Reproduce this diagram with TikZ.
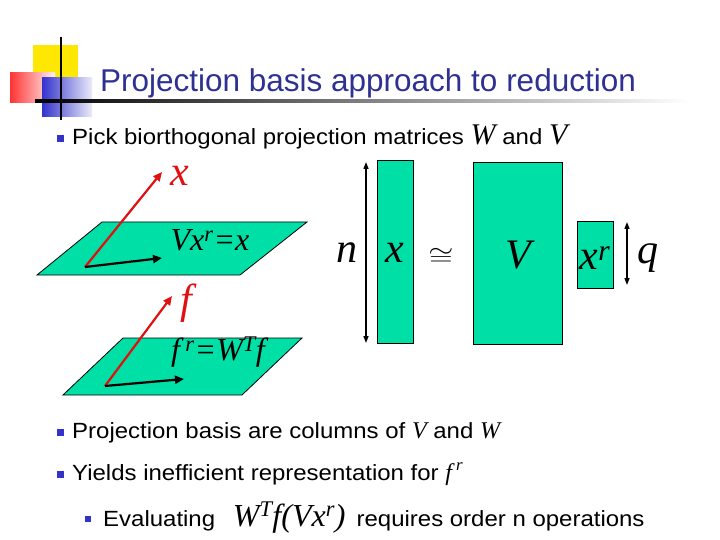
\documentclass[tikz,border=0pt]{standalone}
\usepackage{fontspec}
\setmainfont{Liberation Sans}
\newfontfamily\stretched{Liberation Sans}[FakeStretch=1.09]
\newfontfamily\tms{Liberation Serif}
\usetikzlibrary{arrows.meta}
\definecolor{tealg}{HTML}{00DFA6}
\definecolor{ttl}{HTML}{2E3192}
\definecolor{bul}{HTML}{3333CC}
\definecolor{redv}{HTML}{E01010}
\tikzset{
 plane/.style={fill=tealg,draw=black,line width=0.8pt},
 mat/.style={fill=tealg,draw=black,line width=0.8pt},
 redarr/.style={redv,line width=2.2pt,-{Triangle[length=9pt,width=8pt]}},
 blkarr/.style={black,line width=2.2pt,-{Triangle[length=9pt,width=8pt]}},
 dim/.style={black,line width=1.3pt,{Triangle[length=7pt,width=5pt]}-{Triangle[length=7pt,width=5pt]}},
 mth/.style={font=\tms\itshape\fontsize{42}{42}\selectfont,inner sep=0},
 mths/.style={font=\tms\itshape\fontsize{32}{32}\selectfont,inner sep=0},
 txt/.style={font=\stretched\fontsize{22}{26}\selectfont,anchor=west,inner sep=0},
 bsq/.style={fill=bul,minimum size=7pt,inner sep=0}
}
\begin{document}
\begin{tikzpicture}[x=1pt,y=-1pt]
\useasboundingbox (0,0) rectangle (720,540);
% logo
\fill[yellow!90!orange] (33,45) rectangle (78,88);
\shade[left color=red!80, right color=red!5] (10,73) rectangle (55,103);
\shade[left color=bul, right color=bul!10] (42,78) rectangle (92,117);
\draw[line width=1.5pt] (61,37) -- (61,120);
\shade[left color=black, right color=white] (35,100) rectangle (690,102.5);
\node[text=ttl,font=\fontsize{31.5}{34}\selectfont,anchor=base] (title) at (368,92) {Projection basis approach to reduction};
% bullets
\node[bsq] (b1) at (60,139) {};
\node[txt,anchor=base west] (t1) at (72,145) {Pick biorthogonal projection matrices {\tms\itshape\fontsize{30}{30}\selectfont W} and {\tms\itshape\fontsize{30}{30}\selectfont V}};
\node[bsq] (b2) at (60,432) {};
\node[txt,anchor=base west] (t2) at (72,438) {Projection basis are columns of {\tms\itshape\fontsize{24}{24}\selectfont V} and {\tms\itshape\fontsize{24}{24}\selectfont W}};
\node[bsq] (b3) at (60,474) {};
\node[txt,anchor=base west] (t3) at (72,480) {Yields inefficient representation for {\tms\itshape\fontsize{24}{24}\selectfont f\,\textsuperscript{r}}};
\node[bsq,minimum size=6pt] (b4) at (88,519) {};
\node[txt,anchor=base west] (t4) at (103,526) {Evaluating \enspace{\tms\itshape\fontsize{32}{32}\selectfont W\textsuperscript{T}f(Vx\textsuperscript{r})}\enspace requires order n operations};
% plane 1
\draw[plane] (37,275) -- (102,222) -- (307,222) -- (240,275) -- cycle;
\coordinate (o1) at (85,267);
\coordinate (p1) at (162,172);
\coordinate (q1) at (162,258);
\draw[redarr] (o1) -- (p1);
\draw[blkarr] (o1) -- (q1);
\node[mth,text=redv] (lx) at (180,176) {x};
\node[mths] (l1) at (210,240) {Vx\textsuperscript{r}=x};
% plane 2
\draw[plane] (63,395) -- (123,338) -- (302,338) -- (242,395) -- cycle;
\coordinate (o2) at (105,386);
\coordinate (p2) at (172,296);
\coordinate (q2) at (184,379);
\draw[redarr] (o2) -- (p2);
\draw[blkarr] (o2) -- (q2);
\node[mth,text=redv] (lf) at (186,303) {f};
\node[mths] (l2) at (218,352) {f\,\textsuperscript{r}=W\textsuperscript{T}f};
% matrices
\node[mat,minimum width=36pt,minimum height=183pt,inner sep=0] (mx) at (395,251.5) {};
\node[mth] at (395,253) {x};
\draw[dim] (366,162) -- (366,343);
\node[mth] (ln) at (347,253) {n};
\node[font=\fontsize{34}{34}\selectfont,inner sep=0,xscale=1.3] (cong) at (441,257) {$\cong$};
\node[mat,minimum width=89pt,minimum height=182pt,inner sep=0] (mv) at (517.5,253) {};
\node[mth] at (518,255) {V};
\node[mat,minimum width=36pt,minimum height=67pt,inner sep=0] (mr) at (595,254.5) {};
\node[mth] at (595,258) {x\textsuperscript{r}};
\draw[dim] (627,222) -- (627,285);
\node[mth] (lq) at (648,258) {q};
\end{tikzpicture}
\end{document}
